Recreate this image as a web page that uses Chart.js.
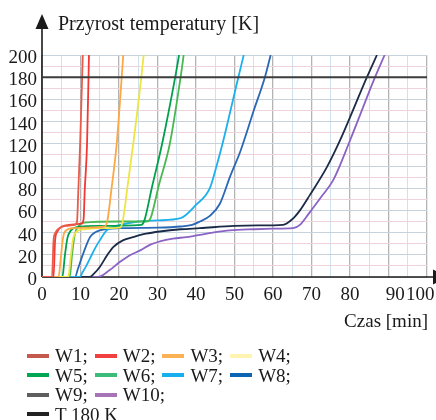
<!DOCTYPE html>
<html><head><meta charset="utf-8">
<script src="https://cdn.jsdelivr.net/npm/chart.js@4.4.1/dist/chart.umd.min.js"></script>
<style>
html,body{margin:0;padding:0;background:#fff;}
#wrap{position:relative;width:436px;height:420px;overflow:hidden;font-family:"Liberation Serif","DejaVu Serif",serif;color:#1a1a1a;}
canvas{position:absolute;left:0;top:0;}
#ytitle{position:absolute;left:58px;top:13px;font-size:20px;line-height:20px;white-space:nowrap;}
#xtitle{position:absolute;right:8px;top:311px;font-size:19px;line-height:19px;white-space:nowrap;}
#legend{position:absolute;left:27px;top:346px;font-size:19px;line-height:19px;}
.row{display:flex;align-items:center;height:19.5px;}
.item{display:flex;align-items:center;margin-right:7px;white-space:nowrap;}
.sw{width:22px;height:4px;margin-right:6px;flex:none;}
</style></head>
<body><div id="wrap"><canvas id="c" width="436" height="420"></canvas>
<div id="ytitle">Przyrost temperatury [K]</div>
<div id="xtitle">Czas [min]</div>
<div id="legend"></div></div>
<script>
// ---- data ----
const seriesNames = ['W1;','W2;','W3;','W4;','W5;','W6;','W7;','W8;','W9;','W10;','T 180 K'];
const timeW1 = [0, 2.6, 3.0, 3.5, 4.5, 6.0, 8.5, 9.1, 9.4, 9.9, 10.6];
const tempW1 = [0, 0, 33, 40, 44, 46, 47, 50, 75, 120, 200];
const timeW2 = [0, 3.0, 3.4, 4.0, 5.0, 7.0, 10.2, 10.8, 11.1, 11.7, 12.2];
const tempW2 = [0, 0, 33, 41, 45, 47, 48, 52, 78, 120, 200];
const timeW3 = [0, 4.3, 4.9, 5.5, 6.3, 8.0, 12, 16.3, 17.0, 18.0, 19.4, 20.7, 21.1];
const tempW3 = [0, 0, 18, 36, 42, 44, 44.5, 45.5, 51, 78, 120, 180, 200];
const timeW4 = [0, 6.8, 7.4, 8.0, 9.0, 11, 15, 20.3, 21.0, 22.3, 23.7, 25.8, 26.4];
const tempW4 = [0, 0, 16, 33, 41, 43, 44, 44.5, 51, 84, 120, 180, 200];
const timeW5 = [0, 5.3, 5.9, 6.6, 7.5, 9.0, 15, 25.8, 26.6, 28.5, 31.2, 34.6, 35.6];
const tempW5 = [0, 0, 18, 35, 42, 45, 46, 47, 51, 80, 120, 180, 200];
const timeW6 = [0, 7.2, 7.8, 8.5, 9.5, 11, 20, 27.2, 28.2, 30.3, 33.2, 36.0, 36.8];
const tempW6 = [0, 0, 20, 38, 46, 49, 50, 50, 53, 82, 120, 180, 200];
const timeW7 = [0, 9.8, 10.5, 11.5, 12.5, 13.8, 15.0, 16.8, 18.5, 20.3, 25, 30, 36, 40, 43.6, 45.5, 47.1, 51, 52.4];
const tempW7 = [0, 0, 4, 10, 17, 26, 33, 42, 45, 47, 50, 51, 53, 65, 80, 102, 123, 180, 200];
const timeW8 = [0, 8.6, 9.3, 10.7, 12.5, 15, 20.3, 30, 36, 39, 41, 43.6, 46.2, 48.8, 51.6, 55, 57.9, 59.4];
const tempW8 = [0, 0, 7, 21, 36, 42, 44, 44.5, 45.5, 47, 50, 55, 66, 90, 114, 150, 180, 200];
const timeW9 = [0, 12.3, 13.5, 15, 17, 18.5, 21, 23.7, 27, 30.6, 36, 41, 50, 56, 62.6, 65, 67, 69.6, 74, 77.4, 84.4, 87];
const tempW9 = [0, 0, 3, 9, 20, 27, 33, 36, 39, 41, 43, 44, 46, 46.5, 47, 52, 60, 74, 99, 123, 180, 200];
const timeW10 = [0, 14.5, 17.5, 20, 22.5, 25.5, 28, 30.6, 34, 37.6, 41, 44.4, 48.8, 55, 60, 65.2, 67, 69.5, 72.5, 75.6, 80, 86.5, 89];
const tempW10 = [0, 0, 6, 13, 19, 24, 29, 32, 34.5, 36, 38, 40, 42, 43, 43.5, 44, 47, 58, 72, 87, 123, 180, 200];
const timeT180 = [0, 100];
const tempT180 = [180, 180];
const xTickLabels = [0, 10, 20, 30, 40, 50, 60, 70, 80, 90, 100];
const yTickLabels = [0, 20, 40, 60, 80, 100, 120, 140, 160, 180, 200];

// ---- styles ----
const lineColors = ['#e85c4c','#f23a34','#fba845','#ece545','#00a04c','#48b850','#1cb0ec','#2a68b6','#1b2a47','#8a63c4','#3c3c3c'];
const legendColors = ['#c35a4b','#f23f3f','#fbb255','#fff4b0','#00a651','#3dbb7a','#16b0ee','#0c64b2','#5e5e5e','#a874b8','#222222'];
const legendRowBreaks = [4, 8, 10];

const times = [timeW1,timeW2,timeW3,timeW4,timeW5,timeW6,timeW7,timeW8,timeW9,timeW10,timeT180];
const temps = [tempW1,tempW2,tempW3,tempW4,tempW5,tempW6,tempW7,tempW8,tempW9,tempW10,tempT180];

const datasets = seriesNames.map((name, i) => ({
  label: name,
  data: times[i].map((t, k) => ({x: t, y: temps[i][k]})),
  borderColor: lineColors[i],
  backgroundColor: lineColors[i],
  borderWidth: i === 10 ? 2 : 1.8,
  pointRadius: 0,
  fill: false,
  cubicInterpolationMode: i === 10 ? 'default' : 'monotone',
  order: i === 10 ? -1 : 0
}));

const serif = '"Liberation Serif","DejaVu Serif",serif';

const axisPlugin = {
  id: 'arrowAxes',
  beforeDatasetsDraw(chart) {
    const {ctx, scales: {x, y}} = chart;
    const x0 = x.getPixelForValue(0), y0 = y.getPixelForValue(0);
    ctx.save();
    ctx.strokeStyle = '#1a1a1a'; ctx.fillStyle = '#1a1a1a'; ctx.lineWidth = 1.6;
    ctx.beginPath(); ctx.moveTo(x0, y0); ctx.lineTo(434, y0); ctx.stroke();
    ctx.beginPath(); ctx.moveTo(x0, y0); ctx.lineTo(x0, 28); ctx.stroke();
    ctx.beginPath(); ctx.moveTo(x0, 14); ctx.lineTo(x0 - 6.5, 29); ctx.lineTo(x0 + 6.5, 29); ctx.closePath(); ctx.fill();
    ctx.beginPath(); ctx.moveTo(433, y0 - 7.5); ctx.lineTo(447, y0); ctx.lineTo(433, y0 + 7.5); ctx.closePath(); ctx.fill();
    ctx.restore();
  }
};

function makeChart() {
  const chart = new Chart(document.getElementById('c'), {
    type: 'line',
    data: { datasets },
    options: {
      responsive: false,
      animation: false,
      events: [],
      layout: { padding: { top: 55, right: 9, left: 0, bottom: 0 } },
      plugins: { legend: { display: false }, tooltip: { enabled: false } },
      scales: {
        x: {
          type: 'linear', min: 0, max: 100,
          border: { display: false },
          grid: {
            drawTicks: false,
            color: c => (c.tick.value % 10 === 0 ? '#b4b4b4' : '#cfe2ee'),
            lineWidth: c => (c.tick.value % 10 === 0 ? 1.3 : 1)
          },
          ticks: {
            stepSize: 5, autoSkip: false, maxRotation: 0, padding: 7,
            color: '#1a1a1a', font: { family: serif, size: 19 },
            callback: v => {
              if (!xTickLabels.includes(v)) return '';
              if (v === 90) return '\u2002\u200990';
              if (v === 100) return '100\u2002\u2009';
              return String(v);
            }
          },
          afterFit: s => { s.height = 143; s.paddingLeft = 0; s.paddingRight = 0; }
        },
        y: {
          type: 'linear', min: 0, max: 200,
          border: { display: false },
          grid: {
            drawTicks: false,
            color: c => (c.tick.value % 20 === 0 ? '#c6d3dc' : '#efd3da'),
            lineWidth: 1
          },
          ticks: {
            stepSize: 10, autoSkip: false, padding: 5, labelOffset: 3,
            color: '#1a1a1a', font: { family: serif, size: 19 },
            callback: v => (yTickLabels.includes(v) ? String(v) : '')
          },
          afterFit: s => { s.width = 42; }
        }
      }
    },
    plugins: [axisPlugin]
  });

  // ---- HTML legend built from chart datasets ----
  const legendEl = document.getElementById('legend');
  let row = document.createElement('div'); row.className = 'row'; legendEl.appendChild(row);
  chart.data.datasets.forEach((ds, i) => {
    if (legendRowBreaks.includes(i)) { row = document.createElement('div'); row.className = 'row'; legendEl.appendChild(row); }
    const item = document.createElement('div'); item.className = 'item';
    const sw = document.createElement('span'); sw.className = 'sw'; sw.style.background = legendColors[i];
    const tx = document.createElement('span'); tx.textContent = ds.label;
    item.appendChild(sw); item.appendChild(tx); row.appendChild(item);
  });
}
if (document.fonts && document.fonts.load) {
  Promise.all([document.fonts.load('19px "Liberation Serif"'), document.fonts.load('19px "DejaVu Serif"')]).then(makeChart, makeChart);
} else { makeChart(); }
</script>
</body></html>
